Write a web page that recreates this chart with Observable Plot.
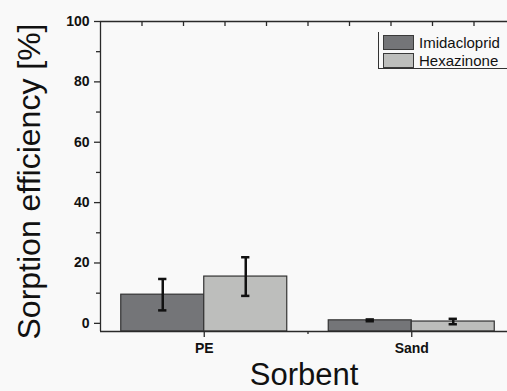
<!DOCTYPE html>
<html>
<head>
<meta charset="utf-8">
<script src="https://cdn.jsdelivr.net/npm/d3@7"></script>
<script src="https://cdn.jsdelivr.net/npm/@observablehq/plot@0.6"></script>
<style>
  html, body { margin: 0; padding: 0; overflow: hidden; background: #f9f9f9; }
  #wrap { position: relative; width: 507px; height: 391px; overflow: hidden; font-family: "Liberation Sans", Arial, sans-serif; }
  #legend { position: absolute; left: 378px; top: 32px; width: 140px; height: 36px; border-left: 1.3px solid #333; border-bottom: 1.3px solid #333; }
  .item { position: absolute; left: 4px; height: 16px; display: flex; align-items: center; }
  .sw { width: 31px; height: 15px; border: 1.2px solid #3a3a3a; box-sizing: border-box; }
  .lab { margin-left: 5px; font-size: 15px; color: #111; }
</style>
</head>
<body>
<div id="wrap"></div>
<script>
// ---- data ----
const categories = ["PE", "Sand"];
const series = ["Imidacloprid", "Hexazinone"];
const imidacloprid = [9.5, 1.0];
const imidaclopridErr = [5.2, 0.3];
const hexazinone = [15.5, 0.6];
const hexazinoneErr = [6.4, 0.9];
const yTicks = [0, 20, 40, 60, 80, 100];
const yMinorTicks = [10, 30, 50, 70, 90];
const xTopTicks = [0.7, 0.9, 1.1, 1.3, 1.5, 1.7, 1.9, 2.1, 2.3];
const xMinorTicks = [1.5];
const colors = ["#747578", "#bdbebc"];

const yMin = -2.7, yMax = 100;
const barW = 0.4;
const capHalf = 0.02;

const values = [imidacloprid, hexazinone];
const errs = [imidaclopridErr, hexazinoneErr];
const rows = [];
categories.forEach((c, i) => {
  series.forEach((s, j) => {
    const pos = i + 1;
    const x1 = j === 0 ? pos - barW : pos;
    const x2 = x1 + barW;
    rows.push({cat: c, series: s, x1, x2, xc: (x1 + x2) / 2, v: values[j][i], e: errs[j][i], color: colors[j]});
  });
});

const axisColor = "#2a2a2a";
const plot = Plot.plot({
  width: 507,
  height: 391,
  marginLeft: 100,
  marginTop: 21,
  marginBottom: 60,
  marginRight: 0,
  style: {background: "transparent", fontFamily: "Liberation Sans, Arial, sans-serif", color: "#111"},
  x: {type: "linear", domain: [0.5, 2.5], range: [100, 515], axis: null},
  y: {domain: [yMin, yMax], axis: null},
  marks: [
    Plot.rect(rows, {x1: "x1", x2: "x2", y1: yMin, y2: "v", fill: "color", stroke: "#333", strokeWidth: 1.2}),
    Plot.ruleX(rows, {x: "xc", y1: d => d.v - d.e, y2: d => d.v + d.e, stroke: "#111", strokeWidth: 2.5}),
    Plot.ruleY(rows, {y: d => d.v - d.e, x1: d => d.xc - capHalf, x2: d => d.xc + capHalf, stroke: "#111", strokeWidth: 2.5}),
    Plot.ruleY(rows, {y: d => d.v + d.e, x1: d => d.xc - capHalf, x2: d => d.xc + capHalf, stroke: "#111", strokeWidth: 2.5}),
    Plot.axisY({ticks: yTicks, tickSize: 6, tickPadding: 5, fontSize: 14, fontWeight: "bold", label: null, stroke: axisColor, strokeWidth: 1.3}),
    Plot.axisY({ticks: yMinorTicks, tickSize: 4, tickFormat: () => "", label: null, stroke: axisColor, strokeWidth: 1.3}),
    Plot.axisX({ticks: [1, 2], tickSize: 6, tickPadding: 6, tickFormat: d => categories[Math.round(d) - 1], fontSize: 14, fontWeight: "bold", label: null, stroke: axisColor, strokeWidth: 1.3}),
    Plot.axisX({ticks: xMinorTicks, tickSize: 3, tickFormat: () => "", label: null, stroke: axisColor, strokeWidth: 1.3}),
    Plot.axisX({anchor: "top", ticks: xTopTicks, tickSize: 4, dy: 4, tickFormat: () => "", label: null, stroke: axisColor, strokeWidth: 1.3}),
    Plot.ruleX([0.5], {stroke: axisColor, strokeWidth: 1.3}),
    Plot.ruleY([yMin], {stroke: axisColor, strokeWidth: 1.3}),
    Plot.ruleY([yMax], {stroke: axisColor, strokeWidth: 1.3}),
    Plot.text(["Sorbent"], {frameAnchor: "bottom", textAnchor: "middle", dy: 44, fontSize: 31, fill: "#111", lineAnchor: "middle"}),
    Plot.text(["Sorption efficiency [%]"], {frameAnchor: "left", textAnchor: "middle", dx: -71, dy: 5, rotate: -90, fontSize: 32, fill: "#111", lineAnchor: "middle"})
  ]
});
const wrap = document.getElementById("wrap");
wrap.appendChild(plot);

const legend = document.createElement("div");
legend.id = "legend";
series.forEach((s, j) => {
  const item = document.createElement("div");
  item.className = "item";
  item.style.top = (2 + j * 18) + "px";
  const sw = document.createElement("div");
  sw.className = "sw";
  sw.style.background = colors[j];
  const lab = document.createElement("span");
  lab.className = "lab";
  lab.textContent = s;
  item.appendChild(sw);
  item.appendChild(lab);
  legend.appendChild(item);
});
wrap.appendChild(legend);
</script>
</body>
</html>
